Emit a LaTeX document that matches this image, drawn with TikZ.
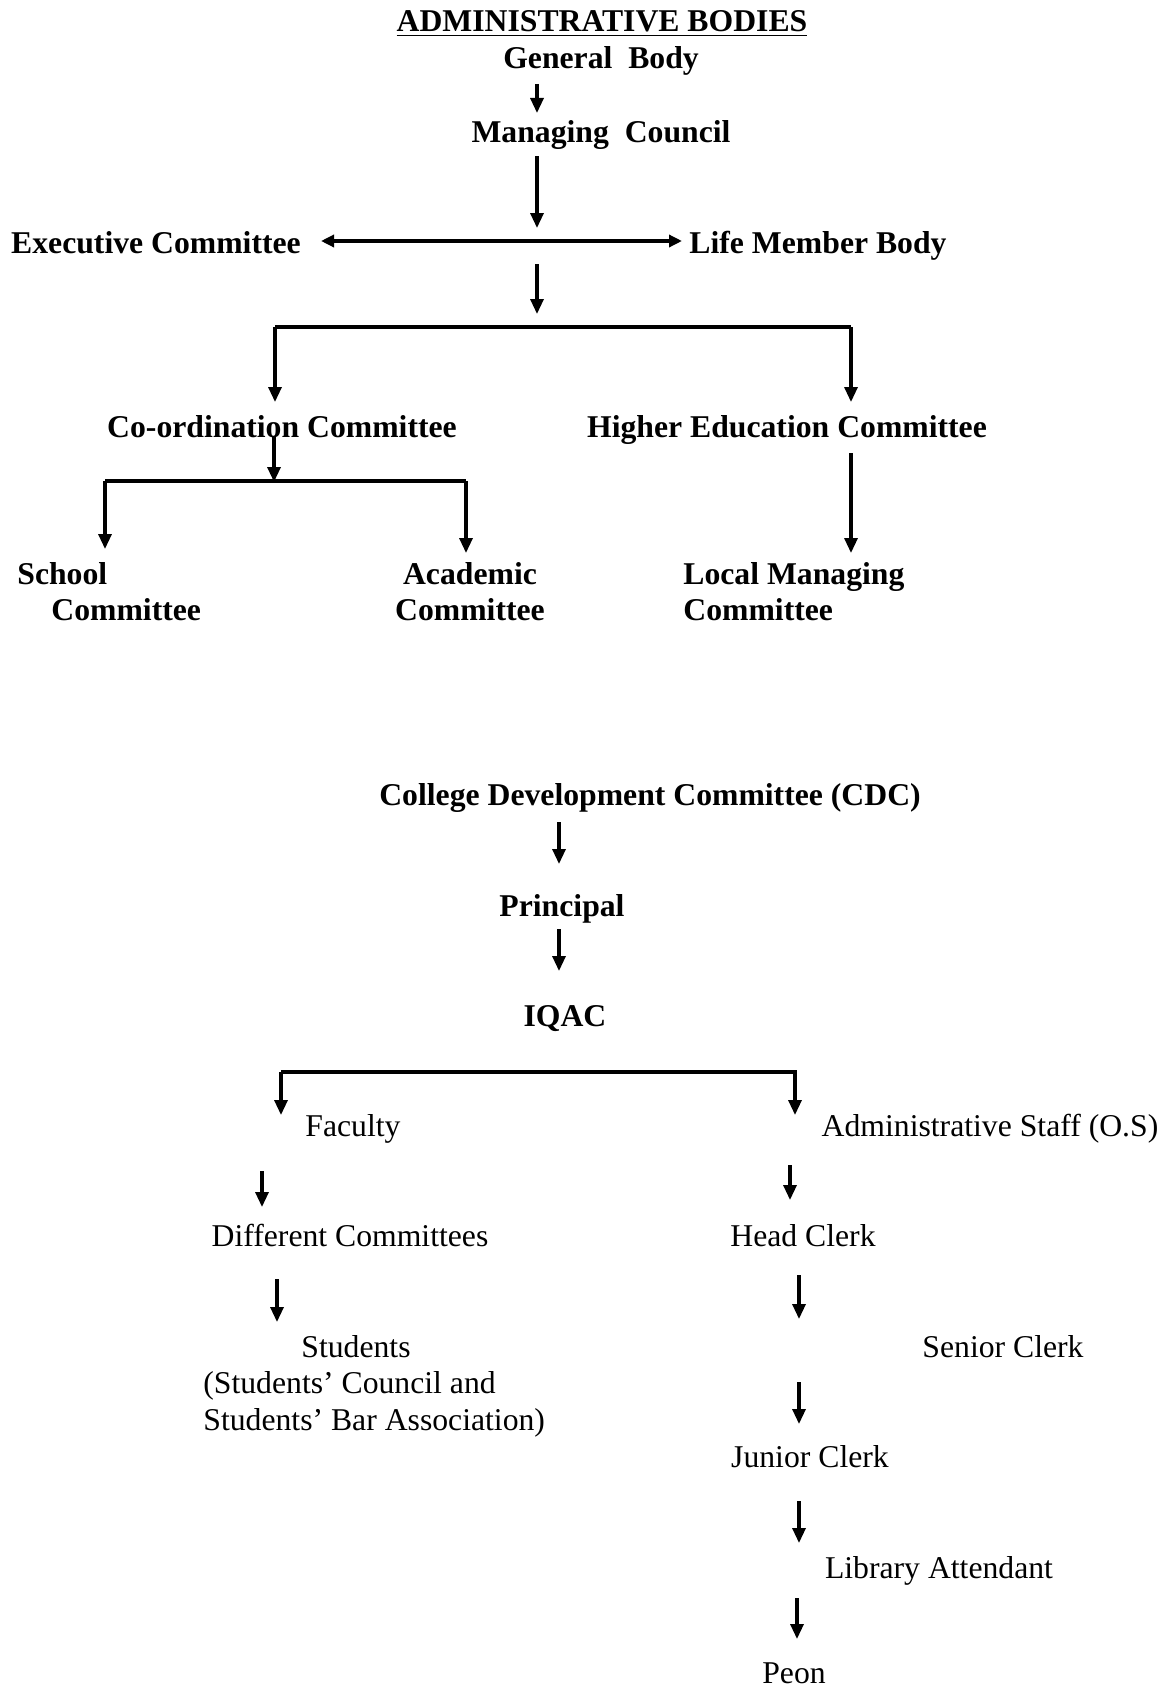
\documentclass[tikz,border=0pt]{standalone}
\usepackage{fontspec}
\setmainfont{Liberation Serif}
\usetikzlibrary{arrows.meta}
\begin{document}
\begin{tikzpicture}[x=0.5pt,y=-0.5pt,
 lbl/.style={inner sep=0pt, anchor=base, font=\fontsize{15.85}{19}\selectfont},
 blbl/.style={inner sep=0pt, anchor=base, font=\fontsize{15.85}{19}\selectfont\bfseries},
 arr/.style={line width=1.6pt, -{Triangle[length=7.5pt,width=6.5pt]}},
 dbl/.style={line width=2.2pt, {Triangle[length=6.5pt,width=6pt]}-{Triangle[length=6.5pt,width=6pt]}},
 bar/.style={line width=2.4pt}]
\fill[white] (0,0) rectangle (1171,1691);
\useasboundingbox (0,0) rectangle (1171,1691);

% ---------- upper part ----------
\node[blbl] (title) at (602,32) {\underline{ADMINISTRATIVE BODIES}};
\node[blbl] (gb) at (601,69) {General\ \ Body};
\node[blbl] (mc) at (601,142) {Managing\ \ Council};
\node[blbl] (ec) at (156,253) {Executive Committee};
\node[blbl] (lmb) at (818,253) {Life Member Body};
\node[blbl] (cc) at (282,437) {Co-ordination Committee};
\node[blbl] (hec) at (787,437) {Higher Education Committee};
\node[blbl, anchor=base west] (sc1) at (17,584) {School};
\node[blbl, anchor=base west] (sc2) at (51,620) {Committee};
\node[blbl] (ac1) at (470,584) {Academic};
\node[blbl] (ac2) at (470,620) {Committee};
\node[blbl, anchor=base west] (lm1) at (683,584) {Local Managing};
\node[blbl, anchor=base west] (lm2) at (683,620) {Committee};

\coordinate (a1s) at (537,84);  \coordinate (a1e) at (537,113);
\coordinate (a2s) at (537,156); \coordinate (a2e) at (537,228);
\coordinate (h1l) at (321,241); \coordinate (h1r) at (682,241);
\coordinate (a3s) at (537,264); \coordinate (a3e) at (537,314);
\coordinate (b1l) at (275,327); \coordinate (b1r) at (851,327);
\coordinate (d1l) at (275,402); \coordinate (d1r) at (851,402);
\coordinate (a4s) at (274,436); \coordinate (a4e) at (274,482);
\coordinate (b2l) at (105,481); \coordinate (b2r) at (466,481);
\coordinate (d2l) at (105,549); \coordinate (d2r) at (466,553);
\coordinate (a5s) at (851,453); \coordinate (a5e) at (851,553);

\draw[arr] (a1s) -- (a1e);
\draw[arr] (a2s) -- (a2e);
\draw[dbl] (h1l) -- (h1r);
\draw[arr] (a3s) -- (a3e);
\draw[bar] (b1l) -- (b1r);
\draw[arr] (b1l) -- (d1l);
\draw[arr] (b1r) -- (d1r);
\draw[arr] (a4s) -- (a4e);
\draw[bar] (b2l) -- (b2r);
\draw[arr] (b2l) -- (d2l);
\draw[arr] (b2r) -- (d2r);
\draw[arr] (a5s) -- (a5e);

% ---------- lower part ----------
\node[blbl] (cdc) at (650,805) {College Development Committee (CDC)};
\node[blbl] (pr) at (562,916) {Principal};
\node[blbl] (iqac) at (565,1026) {IQAC};
\node[lbl] (fac) at (353,1136) {Faculty};
\node[lbl] (adm) at (990,1136) {Administrative Staff (O.S)};
\node[lbl] (dc) at (350,1246) {Different Committees};
\node[lbl] (hc) at (803,1246) {Head Clerk};
\node[lbl] (st) at (356,1357) {Students};
\node[lbl, anchor=base west] (st2) at (203,1393) {(Students’ Council and};
\node[lbl, anchor=base west] (st3) at (203,1430) {Students’ Bar Association)};
\node[lbl] (sen) at (1003,1357) {Senior Clerk};
\node[lbl] (jc) at (810,1467) {Junior Clerk};
\node[lbl] (la) at (939,1578) {Library Attendant};
\node[lbl] (peon) at (794,1683) {Peon};

\coordinate (a6s) at (559,822);   \coordinate (a6e) at (559,864);
\coordinate (a7s) at (559,929);   \coordinate (a7e) at (559,971);
\coordinate (b3l) at (281,1072);  \coordinate (b3r) at (797,1072);
\coordinate (d3l) at (281,1115);  \coordinate (d3r) at (795,1115);
\coordinate (a8s) at (262,1171);  \coordinate (a8e) at (262,1207);
\coordinate (a9s) at (790,1165);  \coordinate (a9e) at (790,1200);
\coordinate (a10s) at (277,1279); \coordinate (a10e) at (277,1322);
\coordinate (a11s) at (799,1275); \coordinate (a11e) at (799,1319);
\coordinate (a12s) at (799,1382); \coordinate (a12e) at (799,1424);
\coordinate (a13s) at (799,1501); \coordinate (a13e) at (799,1543);
\coordinate (a14s) at (797,1598); \coordinate (a14e) at (797,1639);

\draw[arr] (a6s) -- (a6e);
\draw[arr] (a7s) -- (a7e);
\draw[bar] (b3l) -- (b3r);
\draw[arr] (b3l) -- (d3l);
\draw[arr] (d3r |- b3r) -- (d3r);
\draw[arr] (a8s) -- (a8e);
\draw[arr] (a9s) -- (a9e);
\draw[arr] (a10s) -- (a10e);
\draw[arr] (a11s) -- (a11e);
\draw[arr] (a12s) -- (a12e);
\draw[arr] (a13s) -- (a13e);
\draw[arr] (a14s) -- (a14e);
\end{tikzpicture}
\end{document}
